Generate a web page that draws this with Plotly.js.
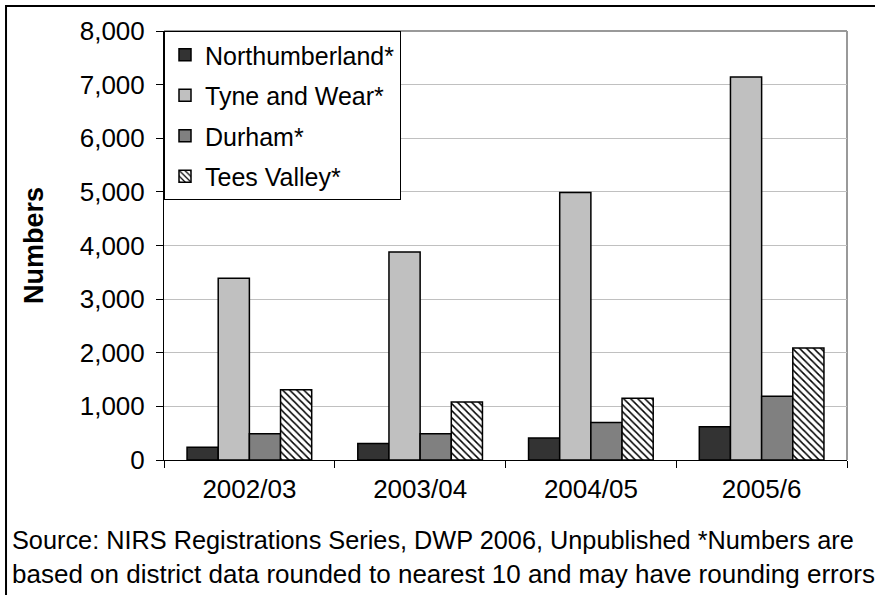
<!DOCTYPE html>
<html>
<head>
<meta charset="utf-8">
<script src="https://cdn.plot.ly/plotly-3.0.1.min.js"></script>
<style>html,body{margin:0;padding:0;background:#fff;}#chart{width:875px;height:595px;}</style>
</head>
<body>
<div id="chart"></div>
<script>
const years = ["2002/03", "2003/04", "2004/05", "2005/6"];
const northumberland = [240, 310, 410, 620];
const tyneWear = [3390, 3880, 4990, 7140];
const durham = [490, 490, 700, 1190];
const teesValley = [1310, 1080, 1150, 2090];
const seriesNames = ["Northumberland*", "Tyne and Wear*", "Durham*", "Tees Valley*"];
const yTicks = [0, 1000, 2000, 3000, 4000, 5000, 6000, 7000, 8000];
const sourceLines = ["Source: NIRS Registrations Series, DWP 2006, Unpublished *Numbers are",
                     "based on district data rounded to nearest 10 and may have rounding errors"];

const FONT = "Liberation Sans, Arial, sans-serif";
const outline = {color: "#000", width: 1.5};
function bar(name, y, color, pattern, grp) {
  const m = {color: color, line: outline};
  if (pattern) m.pattern = pattern;
  return {type: "bar", name: name, x: years, y: y, marker: m, legendgroup: grp, hoverinfo: "x+y+name"};
}
const data = [
  bar(seriesNames[0], northumberland, "#333333", null, "a"),
  bar(seriesNames[1], tyneWear, "#c0c0c0", null, "b"),
  bar(seriesNames[2], durham, "#808080", null, "c"),
  bar(seriesNames[3], teesValley, "#ffffff", {shape: "\\", fgcolor: "#000", bgcolor: "#fff", size: 5, solidity: 0.3}, "d")
];

const sourceSizes = [25.3, 26];
const layout = {
  width: 875, height: 595,
  margin: {l: 164, r: 28, t: 31, b: 135},
  paper_bgcolor: "#fff", plot_bgcolor: "#fff",
  font: {family: FONT, color: "#000", size: 25},
  barmode: "group", bargap: 0.27, bargroupgap: 0,
  showlegend: true,
  legend: {x: 0, y: 1, xanchor: "left", yanchor: "top", bgcolor: "#fff", bordercolor: "#000", borderwidth: 1,
           font: {family: FONT, size: 25, color: "#000"}, tracegroupgap: 5, traceorder: "grouped"},
  xaxis: {type: "category", showline: true, linecolor: "#000", linewidth: 1, ticks: "outside", ticklen: 7,
          tickcolor: "#000", tickson: "boundaries", showgrid: false, tickfont: {size: 26, family: FONT},
          ticklabelstandoff: 6, zeroline: false},
  yaxis: {range: [0, 8000], tickvals: yTicks, tickformat: ",d", showline: true, linecolor: "#000", linewidth: 1,
          ticks: "outside", ticklen: 7, tickcolor: "#000", showgrid: true, gridcolor: "#c0c0c0", gridwidth: 1,
          zeroline: false, tickfont: {size: 26, family: FONT}, ticklabelstandoff: 6,
          title: {text: "<b>Numbers</b>", font: {size: 27, family: FONT}, standoff: 28}},
  shapes: [
    {type: "line", xref: "paper", yref: "paper", x0: 0, x1: 1, y0: 1, y1: 1, line: {color: "#999", width: 2}, layer: "below"},
    {type: "line", xref: "paper", yref: "paper", x0: 1, x1: 1, y0: 0, y1: 1, line: {color: "#999", width: 2}, layer: "below"},
    {type: "rect", xref: "paper", yref: "paper", x0: -0.2313, x1: 1.12, y0: 1.0584, y1: -0.35, line: {color: "#000", width: 2}, fillcolor: "rgba(0,0,0,0)"}
  ],
  annotations: sourceLines.map((t, i) => ({
    text: t, xref: "paper", yref: "paper", x: -0.2255, y: -0.186 - i * 0.08, xanchor: "left", yanchor: "middle",
    showarrow: false, font: {size: sourceSizes[i], family: FONT, color: "#000"}
  }))
};
Plotly.newPlot("chart", data, layout, {displayModeBar: false, staticPlot: true});
</script>
</body>
</html>
